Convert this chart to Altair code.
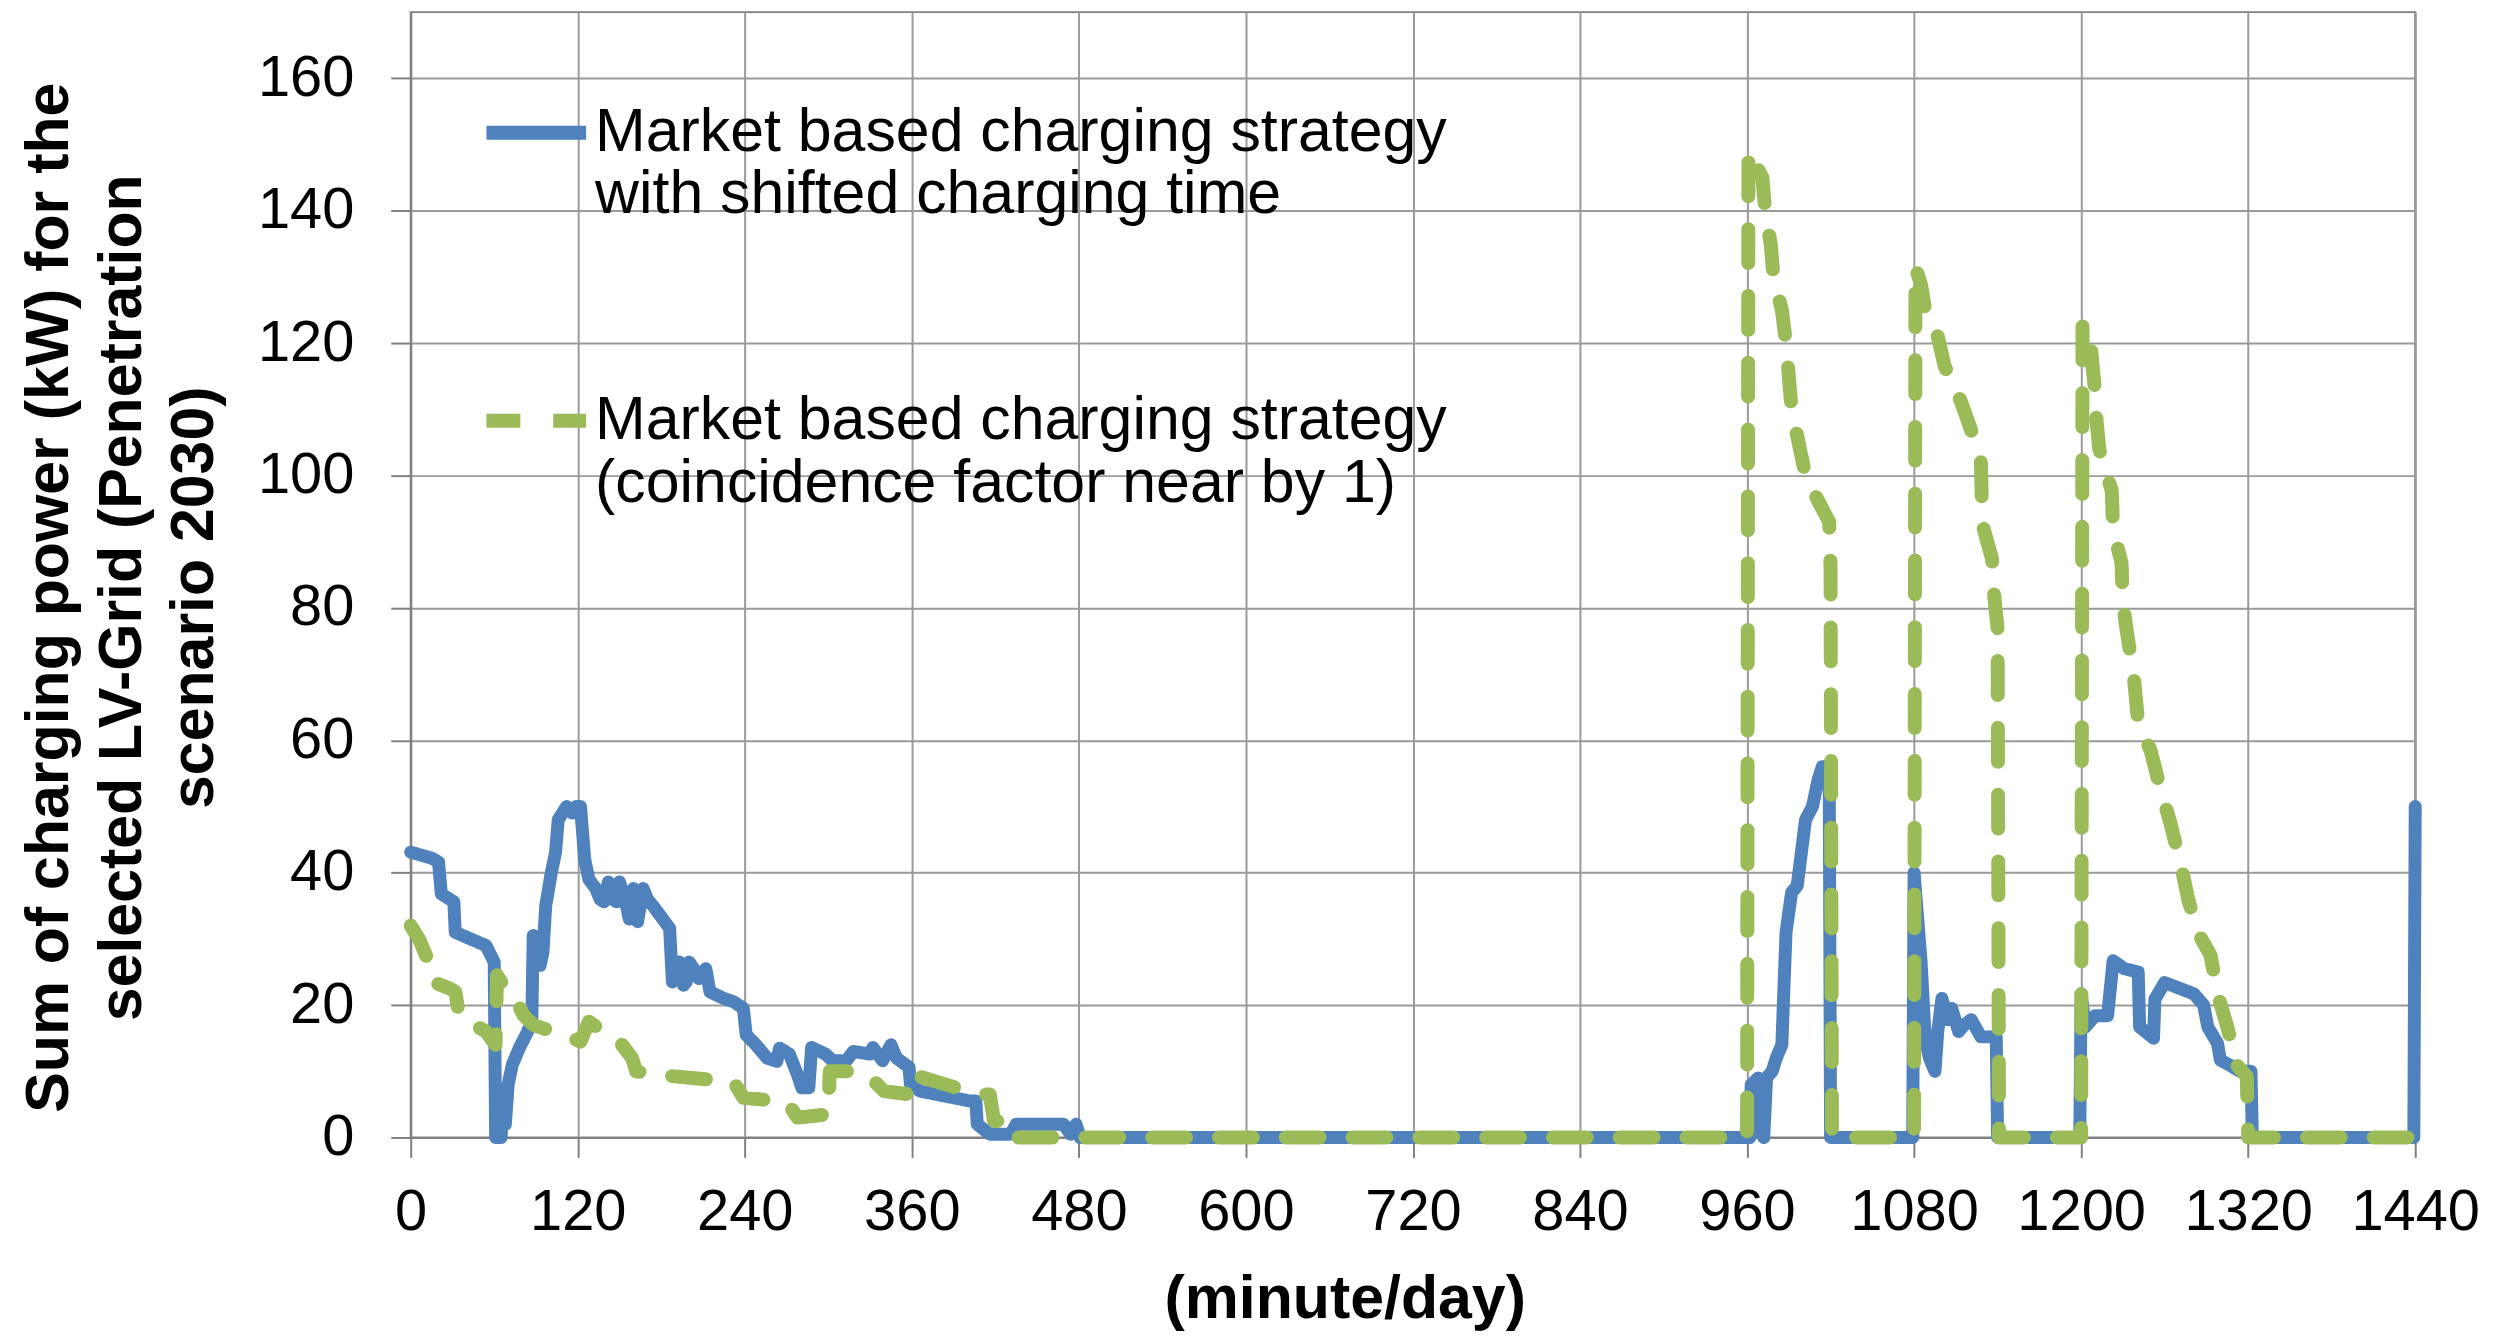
import altair as alt
import pandas as pd

# ---- data ----
blue_min = [0, 15, 20, 22, 31, 32, 54, 60, 61, 65, 66, 68, 70, 73, 78, 84, 87, 88, 91, 93,
            95, 97, 101, 104, 106, 109, 112, 116, 119, 122, 125, 128, 133, 136, 139, 142, 145, 148, 150, 154,
            157, 160, 163, 167, 170, 174, 179, 186, 188, 193, 196, 198, 200, 205, 207, 212, 215, 225, 232, 239,
            241, 248, 256, 263, 265, 272, 278, 281, 286, 288, 298, 303, 313, 318, 330, 332, 339, 345, 349, 358,
            359, 366, 402, 406, 407, 416, 431, 435, 469, 474, 478, 481, 962, 963, 968, 970, 972, 974, 978, 981,
            985, 988, 992, 996, 999, 1002, 1007, 1011, 1014, 1019, 1020, 1079, 1080, 1085, 1088, 1091, 1095, 1097, 1100, 1104,
            1107, 1112, 1116, 1121, 1128, 1139, 1140, 1199, 1200, 1203, 1210, 1219, 1223, 1231, 1241, 1242, 1252, 1253, 1260, 1281,
            1288, 1291, 1298, 1300, 1307, 1314, 1322, 1323, 1439, 1440]
blue_kw = [43.1, 42.2, 41.6, 36.8, 35.6, 31.0, 29.0, 26.5, 0, 0, 6, 2, 8, 11, 13.5, 16, 17.5, 30.5, 29, 26,
           28, 35, 40, 43, 48, 49, 50, 49, 50, 50, 42, 39, 37.6, 36, 35.6, 38.6, 36, 35.6, 38.6, 36,
           33, 37.6, 32.6, 37.6, 36, 35, 33.6, 31.6, 23.5, 26.5, 23, 23.5, 26.5, 25, 24, 25.5, 22, 21, 20.5, 19.5,
           15.5, 14, 12, 11.5, 13.5, 12.6, 9.4, 7.5, 7.5, 13.6, 12.6, 11.6, 11.6, 13, 12.6, 13.6, 11.6, 14, 12, 10.6,
           8, 7, 5.5, 5.5, 2, 0.5, 0.5, 2, 2, 0.5, 2, 0, 0, 8, 9, 1, 0, 9, 10, 12,
           14, 31, 37, 38, 43, 48, 50, 54, 56, 56, 0, 0, 40, 26.6, 15, 12, 10, 16, 21, 17.8,
           19.5, 16, 17, 17.8, 15.2, 15.2, 0, 0, 21.7, 16.7, 18.4, 18.4, 26.7, 25.5, 25, 16.7, 15, 20.9, 23.4, 21.7,
           20, 16.7, 14.2, 11.7, 10.9, 10, 10, 0, 0, 50]

green_min = [0, 6, 12, 15, 16, 28, 32, 34, 42, 50, 54, 61, 62, 68, 75, 81, 88, 95, 110, 122,
             128, 135, 150, 159, 162, 181, 232, 239, 270, 278, 300, 301, 322, 333, 340, 359, 361, 392, 413, 416,
             419, 426, 428, 432, 960, 961, 971, 973, 977, 979, 985, 988, 990, 992, 997, 1002, 1009, 1019, 1020, 1021,
             1080, 1081, 1085, 1088, 1097, 1102, 1114, 1121, 1128, 1129, 1136, 1137, 1140, 1141, 1200, 1201, 1207, 1208, 1210, 1211,
             1213, 1222, 1223, 1229, 1230, 1232, 1238, 1241, 1250, 1257, 1264, 1272, 1277, 1284, 1293, 1298, 1305, 1312, 1319, 1320,
             1439, 1440]
green_kw = [32, 30, 27, 25, 23.5, 22.5, 22, 19.5, 17, 16.5, 16, 14, 24.5, 22.5, 21, 18.5, 17, 16.5, 15.5, 14.5,
            17.5, 16.5, 14.5, 12, 10, 9.4, 8.4, 6, 5.4, 3, 3.5, 10, 10, 8.5, 7, 6.5, 9.5, 7.5, 6.5, 6.5,
            2.5, 2.5, 0.5, 0, 0, 149, 145, 140, 135, 130, 125, 120, 115, 110, 105, 100, 97, 93, 86, 0,
            0, 131.5, 128.8, 125, 121, 116.5, 111, 106.8, 102, 92.7, 87.4, 83, 76.8, 0, 0, 123, 120, 117, 112.7, 108.5,
            104, 97.7, 91.8, 86.8, 81, 77.6, 69.3, 62.6, 58.4, 52.6, 47.6, 40.9, 35.9, 30.9, 27.5, 21.7, 16.7, 10.9, 9.2, 0,
            0, 2.5]

series_keys = ["A", "B"]
series_colors = ["#4F81BD", "#9BBB59"]
x_ticks = [0, 120, 240, 360, 480, 600, 720, 840, 960, 1080, 1200, 1320, 1440]
y_ticks = [0, 20, 40, 60, 80, 100, 120, 140, 160]
y_title = ["Sum of charging power (kW) for the", "selected LV-Grid (Penetration", "scenario 2030)"]
x_title = "(minute/day)"
legend_a = ["Market based charging strategy", "with shifted charging time"]
legend_b = ["Market based charging strategy", "(coincidence factor near by 1)"]

df = pd.concat([
    pd.DataFrame({"minute": blue_min, "kw": blue_kw, "series": "A"}),
    pd.DataFrame({"minute": green_min, "kw": green_kw, "series": "B"}),
], ignore_index=True)

FONT = "Liberation Sans"

label_expr = ("datum.label == 'A' ? ['" + legend_a[0] + "', '" + legend_a[1] + "'] : ['"
              + legend_b[0] + "', '" + legend_b[1] + "']")


def make_legend():
    return alt.Legend(title=None, orient="none", legendX=69, legendY=64,
                      direction="vertical", symbolType="stroke",
                      symbolSize=10000, symbolStrokeWidth=14,
                      labelFontSize=61, labelFont=FONT, labelColor="#000000",
                      labelLimit=1600, labelBaseline="middle", rowPadding=139,
                      labelOffset=2, padding=0, labelExpr=label_expr)


x_enc = alt.X("minute:Q",
              scale=alt.Scale(domain=[0, 1440], nice=False, zero=False),
              axis=alt.Axis(values=x_ticks, format="d", title=x_title, titleFontSize=61,
                            titleFontWeight="bold", titleX=937, titleY=181,
                            titleBaseline="alphabetic", titleAlign="center",
                            labelFontSize=58, labelPadding=26, tickSize=20, labelFlush=False,
                            labelOverlap=False))
y_enc = alt.Y("kw:Q",
              scale=alt.Scale(domain=[0, 170], nice=False),
              axis=alt.Axis(values=y_ticks, format="d", title=y_title, titleFontSize=61,
                            titleFontWeight="bold", titleLineHeight=72.5, titleX=-331, titleY=587,
                            titleAngle=270, titleBaseline="bottom", titleAlign="center",
                            labelFontSize=58, labelPadding=37, tickSize=20))
color_enc = alt.Color("series:N",
                      scale=alt.Scale(domain=series_keys, range=series_colors),
                      legend=make_legend())
dash_enc = alt.StrokeDash("series:N",
                          scale=alt.Scale(domain=series_keys, range=[[1, 0], [34, 33]]),
                          legend=make_legend())

base = alt.Chart(df)
blue = base.transform_filter(alt.datum.series == "A").mark_line(
    strokeWidth=13, strokeCap="round", strokeJoin="round").encode(
    x=x_enc, y=y_enc, color=color_enc, strokeDash=dash_enc, order=alt.Order("minute:Q"))
green = base.transform_filter(alt.datum.series == "B").mark_line(
    strokeWidth=14, strokeCap="round", strokeJoin="round").encode(
    x=x_enc, y=y_enc, color=color_enc, strokeDash=dash_enc, order=alt.Order("minute:Q"))

chart = alt.layer(blue, green).properties(
    width=2011, height=1129,
    autosize=alt.AutoSizeParams(type="none"),
    padding={"left": 404, "top": 2, "right": 70, "bottom": 193},
    background="white",
).configure_view(
    stroke="#808080", strokeWidth=2
).configure_axis(
    labelFont=FONT, titleFont=FONT, labelColor="#000000", titleColor="#000000",
    domainColor="#808080", domainWidth=2, tickColor="#808080", tickWidth=2,
    gridColor="#9a9a9a", gridWidth=2,
)

chart.save("out.html", embed_options={"renderer": "svg", "actions": False})
